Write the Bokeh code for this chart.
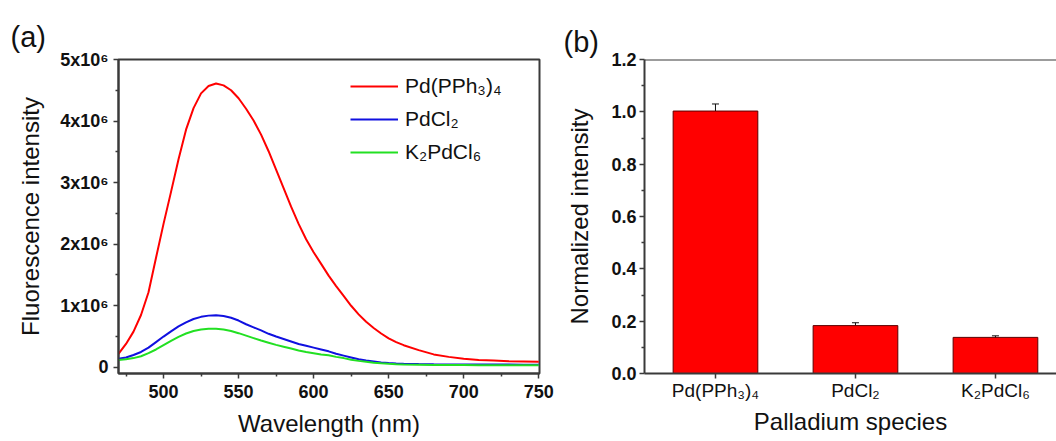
from bokeh.plotting import figure
from bokeh.layouts import row
from bokeh.models import (Legend, LegendItem, Span, Whisker, TeeHead,
                          ColumnDataSource, FixedTicker, Range1d, NumeralTickFormatter)
from bokeh.embed import file_html
from bokeh.resources import INLINE

# ---------------- data ----------------
wavelength_nm = [470, 475, 480, 485, 490, 495, 500, 505, 510, 515, 520, 525, 530, 535,
                 540, 545, 550, 555, 560, 565, 570, 575, 580, 585, 590, 595, 600, 605,
                 610, 615, 620, 625, 630, 635, 640, 645, 650, 655, 660, 670, 680, 690,
                 700, 710, 720, 730, 740, 750]
# fluorescence intensity, in units of 10^6
pd_pph3_4 = [0.22, 0.38, 0.58, 0.85, 1.22, 1.78, 2.33, 2.85, 3.38, 3.86, 4.21, 4.45, 4.57, 4.61,
             4.58, 4.50, 4.37, 4.20, 4.01, 3.78, 3.51, 3.21, 2.91, 2.61, 2.33, 2.08, 1.87, 1.68,
             1.49, 1.32, 1.16, 1.00, 0.86, 0.74, 0.64, 0.55, 0.47, 0.41, 0.36, 0.28, 0.21, 0.17,
             0.14, 0.12, 0.11, 0.10, 0.095, 0.09]
pdcl2 = [0.14, 0.16, 0.20, 0.25, 0.32, 0.41, 0.50, 0.585, 0.665, 0.73, 0.785, 0.82, 0.84, 0.845,
         0.835, 0.805, 0.76, 0.70, 0.65, 0.60, 0.545, 0.50, 0.46, 0.42, 0.38, 0.35, 0.32, 0.29,
         0.26, 0.22, 0.19, 0.16, 0.13, 0.11, 0.095, 0.08, 0.07, 0.063, 0.058, 0.053, 0.05, 0.048,
         0.047, 0.046, 0.045, 0.045, 0.044, 0.044]
k2pdcl6 = [0.12, 0.13, 0.15, 0.18, 0.23, 0.29, 0.36, 0.43, 0.495, 0.55, 0.59, 0.615, 0.628, 0.627,
           0.615, 0.59, 0.555, 0.515, 0.475, 0.435, 0.40, 0.365, 0.335, 0.305, 0.275, 0.25, 0.23, 0.21,
           0.195, 0.17, 0.15, 0.125, 0.105, 0.09, 0.075, 0.065, 0.058, 0.052, 0.048, 0.044, 0.04, 0.038,
           0.037, 0.036, 0.036, 0.035, 0.035, 0.035]
legend_labels = ["Pd(PPh\u2083)\u2084", "PdCl\u2082", "K\u2082PdCl\u2086"]

y_ticks_a = [0, 1, 2, 3, 4, 5]
y_tick_labels_a = ["0", "1x10\u2076", "2x10\u2076", "3x10\u2076", "4x10\u2076", "5x10\u2076"]
y_minor_a = [0.5, 1.5, 2.5, 3.5, 4.5]
x_ticks_a = [500, 550, 600, 650, 700, 750]
x_minor_a = [475, 525, 575, 625, 675, 725]

species = ["Pd(PPh\u2083)\u2084", "PdCl\u2082", "K\u2082PdCl\u2086"]
species_pos = [1, 2, 3]
norm_intensity = [1.003, 0.183, 0.138]
norm_error = [0.027, 0.011, 0.006]
y_ticks_b = [0.0, 0.2, 0.4, 0.6, 0.8, 1.0, 1.2]
y_minor_b = [0.1, 0.3, 0.5, 0.7, 0.9, 1.1]

# ---------------- style ----------------
FONT = "Liberation Sans"
AXIS_COLOR = "#3a3a3a"
TEXT_COLOR = "#111111"
RED, BLUE, GREEN = "#ff0000", "#1010e0", "#22e022"


def style_axis(ax, size, standoff):
    ax.axis_line_color = AXIS_COLOR
    ax.axis_line_width = 2
    ax.major_tick_line_color = AXIS_COLOR
    ax.major_tick_line_width = 1.5
    ax.minor_tick_line_color = AXIS_COLOR
    ax.minor_tick_line_width = 1.5
    ax.major_tick_in = 0
    ax.major_tick_out = 5
    ax.minor_tick_in = 0
    ax.minor_tick_out = 3
    ax.major_label_standoff = standoff
    ax.major_label_text_font = FONT
    ax.major_label_text_font_style = "bold"
    ax.major_label_text_font_size = size
    ax.major_label_text_color = TEXT_COLOR
    ax.axis_label_text_font = FONT
    ax.axis_label_text_font_style = "normal"
    ax.axis_label_text_font_size = "24px"
    ax.axis_label_text_color = TEXT_COLOR


def style_title(p, text, offset, standoff):
    p.title.text = text
    p.title.align = "left"
    p.title.offset = offset
    p.title.standoff = standoff
    p.title.text_font = FONT
    p.title.text_font_style = "normal"
    p.title.text_font_size = "29px"
    p.title.text_color = TEXT_COLOR


# ---------------- panel (a) ----------------
p1 = figure(frame_width=421, frame_height=314,
            min_border_left=118, min_border_right=16, min_border_top=59, min_border_bottom=68,
            x_range=Range1d(470, 750.5), y_range=Range1d(-0.1, 5.0),
            output_backend="svg", toolbar_location=None)
p1.grid.visible = False
p1.outline_line_color = AXIS_COLOR
p1.outline_line_width = 2
style_title(p1, "(a)", -108, 14)

p1.xaxis.ticker = FixedTicker(ticks=x_ticks_a, minor_ticks=x_minor_a)
p1.yaxis.ticker = FixedTicker(ticks=y_ticks_a, minor_ticks=y_minor_a)
p1.yaxis.major_label_overrides = {t: s for t, s in zip(y_ticks_a, y_tick_labels_a)}
style_axis(p1.xaxis[0], "18px", 6)
style_axis(p1.yaxis[0], "18px", 5)
p1.xaxis.axis_label = "Wavelength (nm)"
p1.xaxis.axis_label_standoff = 9
p1.yaxis.axis_label = "Fluorescence intensity"
p1.yaxis.axis_label_standoff = 13

r_red = p1.line(wavelength_nm, pd_pph3_4, line_color=RED, line_width=2)
r_blue = p1.line(wavelength_nm, pdcl2, line_color=BLUE, line_width=2)
r_green = p1.line(wavelength_nm, k2pdcl6, line_color=GREEN, line_width=2)

legend = Legend(items=[LegendItem(label=legend_labels[0], renderers=[r_red]),
                       LegendItem(label=legend_labels[1], renderers=[r_blue]),
                       LegendItem(label=legend_labels[2], renderers=[r_green])],
                location=(232, 209), border_line_color=None, background_fill_alpha=0,
                padding=0, margin=0, spacing=9, glyph_width=48, glyph_height=24,
                label_height=24, label_standoff=7, label_text_font=FONT,
                label_text_font_size="21px", label_text_color=TEXT_COLOR)
p1.add_layout(legend)

# ---------------- panel (b) ----------------
yb1 = 1.2
p2 = figure(frame_width=412, frame_height=314,
            min_border_left=89, min_border_right=0, min_border_top=59, min_border_bottom=68,
            x_range=Range1d(0.493, 3.436), y_range=Range1d(0.0, yb1),
            output_backend="svg", toolbar_location=None)
p2.grid.visible = False
p2.outline_line_color = None
style_title(p2, "(b)", -81, 4)
p2.add_layout(Span(location=yb1, dimension="width", line_color=AXIS_COLOR, line_width=2))

p2.xaxis.ticker = FixedTicker(ticks=species_pos, minor_ticks=[])
p2.xaxis.major_label_overrides = {t: s for t, s in zip(species_pos, species)}
p2.yaxis.ticker = FixedTicker(ticks=y_ticks_b, minor_ticks=y_minor_b)
p2.yaxis.formatter = NumeralTickFormatter(format="0.0")
style_axis(p2.xaxis[0], "19px", 1)
style_axis(p2.yaxis[0], "18px", 3)
p2.xaxis.major_label_text_font_style = "normal"
p2.xaxis.axis_label = "Palladium species"
p2.xaxis.axis_label_standoff = 4
p2.yaxis.axis_label = "Normalized intensity"
p2.yaxis.axis_label_standoff = 15

src = ColumnDataSource(dict(x=species_pos, top=norm_intensity,
                            upper=[v + e for v, e in zip(norm_intensity, norm_error)],
                            lower=[v - e for v, e in zip(norm_intensity, norm_error)]))
p2.vbar(x="x", top="top", bottom=0, width=0.605, source=src,
        fill_color=RED, line_color="#5a0000", line_width=1)
p2.add_layout(Whisker(base="x", upper="upper", lower="lower", source=src,
                      line_color="#111111", line_width=1,
                      upper_head=TeeHead(size=7, line_color="#111111", line_width=1),
                      lower_head=TeeHead(size=7, line_color="#111111", line_width=1)))

layout = row(p1, p2)
open("out.html", "w").write(file_html(layout, INLINE))
